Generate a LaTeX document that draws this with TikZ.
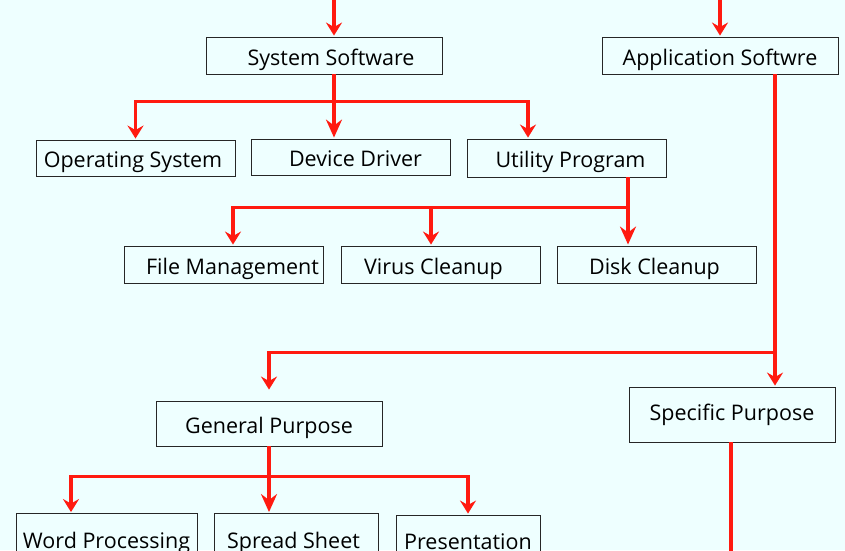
\documentclass[tikz,border=0pt]{standalone}
\usepackage{fontspec}
\setmainfont{Open Sans}
\usetikzlibrary{arrows.meta,calc}
\definecolor{bg}{HTML}{EEFFFF}
\definecolor{arr}{HTML}{FF1A10}
\tikzset{
 box/.style={draw=black!85, line width=0.9pt, fill=bg, inner sep=0pt, text height=21pt, text depth=2pt, font=\fontsize{21.5}{24}\selectfont},
 conn/.style={draw=arr, line width=3.2pt, -{Stealth[length=13pt,width=16pt,inset=4.5pt]}, shorten >=1pt},
 longconn/.style={draw=arr, line width=3.2pt, -{Stealth[length=18pt,width=16pt,inset=6pt]}, shorten >=1pt},
 wire/.style={draw=arr, line width=3.2pt},
}
\begin{document}
\begin{tikzpicture}[x=1pt,y=-1pt]
\fill[bg] (0,0) rectangle (845,550);
\useasboundingbox (0,0) rectangle (845,550);
\clip (0,0) rectangle (845,550);
% nodes
\node[box, minimum width=236pt, minimum height=37pt] (sys) at (324,55.5) {\hspace*{14pt}System Software};
\node[box, minimum width=236pt, minimum height=37pt] (app) at (720,55.5) {Application Softwre};
\node[box, minimum width=199pt, minimum height=36pt] (os) at (135.5,158) {Operating System\hspace*{5pt}};
\node[box, minimum width=199pt, minimum height=36pt] (dd) at (350.5,157) {\hspace*{10pt}Device Driver};
\node[box, minimum width=199pt, minimum height=38pt] (up) at (566.5,158) {\hspace*{8pt}Utility Program};
\node[box, minimum width=199pt, minimum height=37pt] (fm) at (223.5,264.5) {\hspace*{18pt}File Management};
\node[box, minimum width=199pt, minimum height=37pt] (vc) at (440.5,264.5) {Virus Cleanup\hspace*{14pt}};
\node[box, minimum width=199pt, minimum height=37pt] (dc) at (656.5,264.5) {Disk Cleanup\hspace*{4pt}};
\node[box, minimum width=226pt, minimum height=45pt] (gp) at (269,423.5) {General Purpose};
\node[box, minimum width=206pt, minimum height=55pt, text height=17pt, text depth=6pt] (sp) at (732,414.5) {Specific Purpose};
\node[box, minimum width=181pt, minimum height=50pt] (wp) at (106.5,538.5) {Word Processing};
\node[box, minimum width=164pt, minimum height=50pt] (ss) at (296,538.5) {Spread Sheet\hspace*{5pt}};
\node[box, minimum width=144pt, minimum height=50pt] (pr) at (468,540) {Presentation};
% free ends
\coordinate (topS) at (334,0);
\coordinate (topA) at (720,0);
\coordinate (spEnd) at (731,560);
% connectors
\draw[conn] (topS) -- ([xshift=10pt]sys.north);
\draw[conn] (topA) -- (app.north);
\draw[wire] ([xshift=10pt]sys.south) -- ++(0,27) coordinate (j1);
\draw[conn] (j1) -| (os.north);
\draw[conn] (j1) -| ([xshift=-38.5pt]up.north);
\draw[longconn] (j1) -- (j1 |- dd.north);
\draw[wire] ([xshift=61.5pt]up.south) -- ++(0,30) coordinate (j2);
\draw[conn] (j2) -| ([xshift=9.5pt]fm.north);
\draw[conn] (j2) -| ([xshift=-9.5pt]vc.north);
\draw[longconn] (j2) -- (j2 |- dc.north);
\draw[wire] ([xshift=55pt]app.south) -- ++(0,278) coordinate (j3);
\draw[conn, shorten >=11pt] (j3) -| (gp.north);
\draw[conn] (j3) -- (j3 |- sp.north);
\draw[wire] (gp.south) -- ++(0,30) coordinate (j4);
\draw[conn] (j4) -| ([xshift=-35.5pt]wp.north);
\draw[longconn] (j4) -- (j4 |- ss.north);
\draw[conn] (j4) -| (pr.north);
\draw[wire] ([xshift=-1pt]sp.south) -- (spEnd);
\end{tikzpicture}
\end{document}
